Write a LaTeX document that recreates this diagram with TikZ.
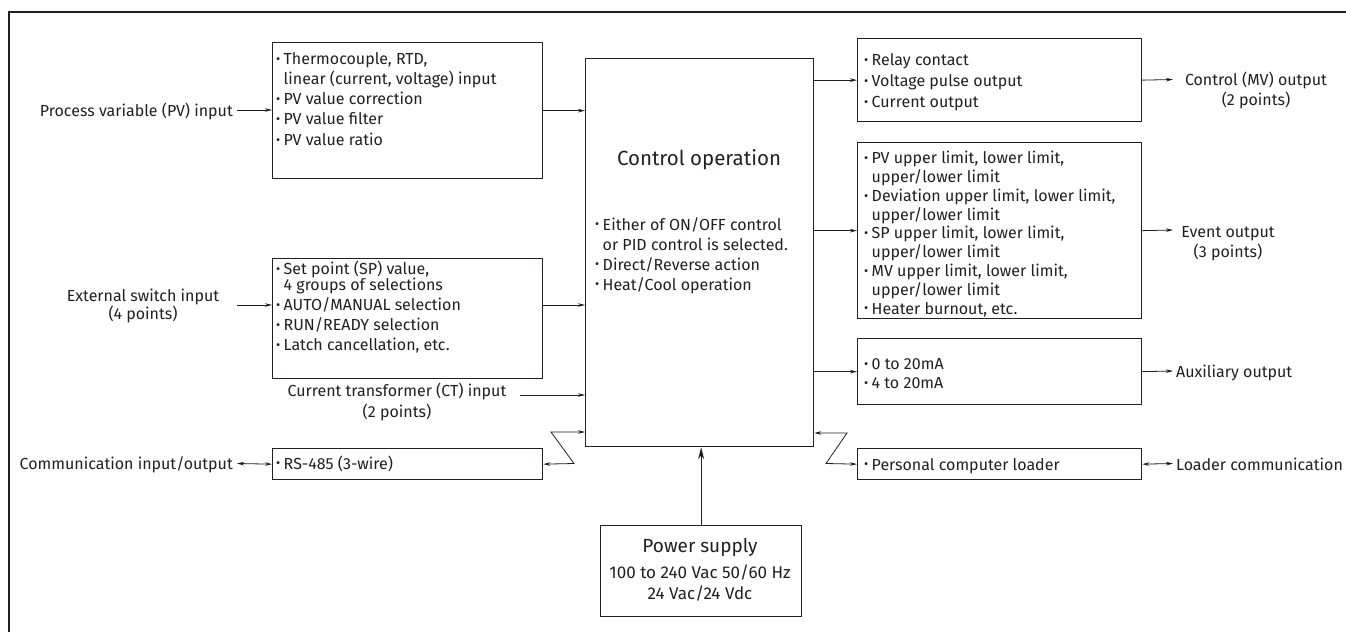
\documentclass[tikz,border=0pt]{standalone}
\usepackage{fontspec}
\usepackage{graphicx}
\setmainfont{Fira Sans}
\usetikzlibrary{arrows.meta}
\definecolor{ink}{HTML}{231F20}
\newcommand{\bl}{\makebox[7.5pt][l]{\raisebox{1.2pt}{\scalebox{0.8}{•}}}}
\newcommand{\ind}{\hspace*{7.5pt}}
\newcommand{\st}{\rule{0pt}{11.5pt}}
\tikzset{
  box/.style={draw=ink, line width=1.3pt, minimum width=#1, inner sep=0pt, anchor=north west},
  txt/.style={inner sep=0pt, text=ink, font=\fontsize{16}{20}\selectfont},
  ltxt/.style={txt, align=left, anchor=north west},
  ctxt/.style={txt, align=center, anchor=north},
  ar/.style={draw=ink, line width=0.8pt, -{Stealth[length=7pt,width=3.6pt]}},
  dar/.style={draw=ink, line width=0.8pt, {Stealth[length=7pt,width=3.6pt]}-{Stealth[length=7pt,width=3.6pt]}},
  par/.style={draw=ink, line width=0.9pt, -{Stealth[length=12pt,width=6pt]}},
  frame/.style={draw=ink, line width=1.3pt}
}
\begin{document}
\begin{tikzpicture}[x=1pt,y=-1pt]
\useasboundingbox (0,0) rectangle (1346,632);
\draw[frame] (9,632) -- (9,12) -- (1346,12);

% boxes
\node[box=270pt, minimum height=136pt] (pv) at (272,42) {};
\node[box=228pt, minimum height=388pt] (ctrl) at (585,58) {};
\node[box=270pt, minimum height=120pt] (sp) at (272,258) {};
\node[box=270pt, minimum height=31pt] (rs) at (272,448) {};
\node[box=284pt, minimum height=83pt] (relay) at (857,38) {};
\node[box=284pt, minimum height=176pt] (event) at (857,142) {};
\node[box=284pt, minimum height=66pt] (aux) at (857,338) {};
\node[box=284pt, minimum height=31pt] (loader) at (857,448) {};
\node[box=201pt, minimum height=91pt] (power) at (600,525) {};

% box texts
\node[ltxt, font=\fontsize{16}{20.25}\selectfont] (pvt) at (276,52) {\st\bl Thermocouple, RTD,\\ \ind linear (current, voltage) input\\ \bl PV value correction\\ \bl PV value filter\\ \bl PV value ratio};
\node[ltxt] (spt) at (276,261) {\st\bl Set point (SP) value,\\[-4pt] \ind 4 groups of selections\\ \bl AUTO/MANUAL selection\\ \bl RUN/READY selection\\ \bl Latch cancellation, etc.};
\node[txt, anchor=base west] (rst) at (276,469) {\bl RS-485 (3-wire)};
\node[txt, anchor=base, font=\fontsize{20.5}{24}\selectfont] (ctitle) at (699,165) {Control operation};
\node[ltxt] (ctt) at (595,217) {\st\bl Either of ON/OFF control\\ \ind or PID control is selected.\\ \bl Direct/Reverse action\\ \bl Heat/Cool operation};
\node[ltxt, font=\fontsize{16}{21}\selectfont] (relt) at (864,53) {\st\bl Relay contact\\ \bl Voltage pulse output\\ \bl Current output};
\node[ltxt, font=\fontsize{16}{18.8}\selectfont] (evt) at (864,151) {\st\bl PV upper limit, lower limit,\\ \ind upper/lower limit\\ \bl Deviation upper limit, lower limit,\\ \ind upper/lower limit\\ \bl SP upper limit, lower limit,\\ \ind upper/lower limit\\ \bl MV upper limit, lower limit,\\ \ind upper/lower limit\\ \bl Heater burnout, etc.};
\node[ltxt, font=\fontsize{16}{19}\selectfont] (auxt) at (864,358) {\st\bl 0 to 20mA\\ \bl 4 to 20mA};
\node[txt, anchor=base west] (ldt) at (864,470) {\bl Personal computer loader};
\node[txt, anchor=base, font=\fontsize{19}{22}\selectfont] (pw1) at (700,552) {Power supply};
\node[txt, anchor=base, font=\fontsize{17}{20}\selectfont] (pw2) at (700,578) {100 to 240 Vac 50/60 Hz};
\node[txt, anchor=base, font=\fontsize{17}{20}\selectfont] (pw3) at (700,599) {24 Vac/24 Vdc};

% outside labels
\node[txt, anchor=base east] (pvl) at (233,116) {Process variable (PV) input};
\node[ctxt, font=\fontsize{16}{18}\selectfont] (extl) at (143,289) {\st External switch input\\ (4 points)};
\node[ctxt, font=\fontsize{16}{21}\selectfont] (ctl) at (397,383) {\st Current transformer (CT) input\\ (2 points)};
\node[txt, anchor=base east] (coml) at (233,469) {Communication input/output};
\node[ctxt] (mvl) at (1256,72) {\st Control (MV) output\\ (2 points)};
\node[ctxt] (evl) at (1228,226) {\st Event output\\ (3 points)};
\node[txt, anchor=base west] (auxl) at (1176,377) {Auxiliary output};
\node[txt, anchor=base west] (ldl) at (1176,470) {Loader communication};

% coordinates for free ends
\coordinate (pvin) at (237,110);
\coordinate (spin) at (237,305);
\coordinate (ctin) at (520,395);
\coordinate (rsin) at (237,463.5);
\coordinate (zl1) at (574,463.5);
\coordinate (zl2) at (551,432);
\coordinate (zr1) at (847,433);
\coordinate (zr2) at (826,463.5);
\coordinate (mvout) at (1173,79.5);
\coordinate (evout) at (1173,230);
\coordinate (auxout) at (1173,371);
\coordinate (ldout) at (1173,463.5);

% connectors
\draw[ar] (pvin) -- (pvin -| pv.west);
\draw[ar] (pv.east) -- (pv.east -| ctrl.west);
\draw[ar] (spin) -- (spin -| sp.west);
\draw[ar] (spin -| sp.east) -- (spin -| ctrl.west);
\draw[ar] (ctin) -- (ctin -| ctrl.west);
\draw[dar] (rsin) -- (rs.west);
\draw[dar] (rs.east) -- (zl1) -- (zl2) -- (zl2 -| ctrl.west);
\draw[ar] (relay.west -| ctrl.east) -- (relay.west);
\draw[ar] (event.west -| ctrl.east) -- (event.west);
\draw[ar] (aux.west -| ctrl.east) -- (aux.west);
\draw[dar] (zr1 -| ctrl.east) -- (zr1) -- (zr2) -- (loader.west);
\draw[ar] (relay.east) -- (mvout);
\draw[ar] (event.east) -- (evout);
\draw[ar] (aux.east) -- (auxout);
\draw[dar] (loader.east) -- (ldout);
\draw[par] (power.north) -- (power.north |- ctrl.south);
\end{tikzpicture}
\end{document}
